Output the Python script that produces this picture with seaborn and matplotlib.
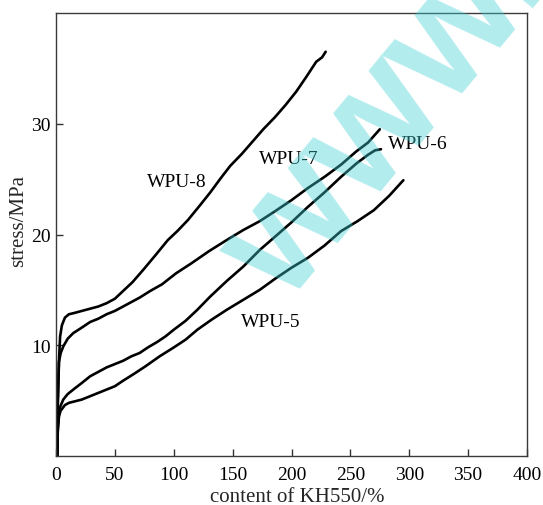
import numpy as np
import pandas as pd
import seaborn as sns
import matplotlib
matplotlib.use("Agg")
import matplotlib.pyplot as plt

# Stress-strain curves of the WPU samples
wpu8_x = [1, 1.5, 2.5, 3.5, 5, 7.6, 11, 15, 22, 29, 36, 43, 50, 57, 65, 74, 85, 95,
          103, 112, 122, 131, 140, 148, 158, 167, 176, 186, 195, 204, 213, 221, 226, 229]
wpu8_y = [0, 4.5, 8.5, 10.8, 11.8, 12.5, 12.8, 12.9, 13.1, 13.3, 13.5, 13.8, 14.2, 14.9,
          15.7, 16.8, 18.2, 19.5, 20.3, 21.3, 22.6, 23.8, 25.1, 26.2, 27.3, 28.4, 29.5,
          30.6, 31.7, 32.9, 34.3, 35.6, 36.0, 36.5]

wpu7_x = [1, 1.5, 2.5, 4, 6.2, 10, 14.7, 22, 29, 36, 43, 50, 57, 64, 71, 80, 90, 102,
          115, 130, 145, 159, 173, 186, 200, 214, 228, 242, 255, 265, 275]
wpu7_y = [0, 5, 8.5, 9.3, 9.9, 10.6, 11.1, 11.6, 12.1, 12.4, 12.8, 13.1, 13.5, 13.9,
          14.3, 14.9, 15.5, 16.5, 17.4, 18.5, 19.5, 20.4, 21.2, 22.1, 23.1, 24.2, 25.2,
          26.3, 27.5, 28.3, 29.5]

wpu6_x = [1, 1.5, 3, 6.2, 10, 14.7, 22, 29, 36, 43, 50, 57, 64, 71, 78, 86, 93, 100,
          110, 120, 131, 145, 159, 173, 186, 200, 214, 228, 242, 255, 265, 271, 276]
wpu6_y = [0, 2.5, 4.3, 5.1, 5.6, 6.0, 6.6, 7.2, 7.6, 8.0, 8.3, 8.6, 9.0, 9.3, 9.8, 10.3,
          10.8, 11.4, 12.2, 13.2, 14.4, 15.8, 17.1, 18.6, 19.8, 21.1, 22.5, 23.8, 25.2,
          26.4, 27.2, 27.6, 27.7]

wpu5_x = [1, 1.5, 2.5, 4, 7.6, 11, 14.7, 22, 29, 36, 43, 50, 57, 66, 76, 88, 100, 110,
          120, 132, 145, 159, 173, 186, 200, 214, 228, 242, 256, 270, 283, 295]
wpu5_y = [0, 2.2, 3.6, 4.1, 4.6, 4.8, 4.9, 5.1, 5.4, 5.7, 6.0, 6.3, 6.8, 7.4, 8.1, 9.0,
          9.8, 10.5, 11.4, 12.3, 13.2, 14.1, 15.0, 16.0, 17.0, 17.9, 19.0, 20.3, 21.2,
          22.2, 23.5, 24.9]

sample_names = ["WPU-8", "WPU-7", "WPU-6", "WPU-5"]
label_x = [102.4, 198, 307, 182]
label_y = [24.8, 26.9, 28.2, 12.1]

x_ticks = [0, 50, 100, 150, 200, 250, 300, 350, 400]
y_ticks = [10, 20, 30]

series = [(wpu8_x, wpu8_y), (wpu7_x, wpu7_y), (wpu6_x, wpu6_y), (wpu5_x, wpu5_y)]
frames = []
for name, (xs, ys) in zip(sample_names, series):
    frames.append(pd.DataFrame({"strain": xs, "stress": ys, "sample": name}))
df = pd.concat(frames, ignore_index=True)

sns.set_theme(style="ticks")
plt.rcParams["font.family"] = ["Liberation Serif", "DejaVu Serif"]

W, H = 543, 506
fig = plt.figure(figsize=(W / 100, H / 100), dpi=100)
ax = fig.add_axes([56 / W, 1 - 457 / H, 471 / W, 443 / H])

sns.lineplot(data=df, x="strain", y="stress", hue="sample", units="sample",
             estimator=None, sort=False, palette=["black"] * 4, linewidth=1.9,
             legend=False, ax=ax)

for name, tx, ty in zip(sample_names, label_x, label_y):
    ax.text(tx, ty, name, ha="center", va="center", fontsize=14, color="black")

ax.set_xlim(0, 400)
ax.set_ylim(0, 40)
ax.set_xticks(x_ticks)
ax.set_yticks(y_ticks)
ax.tick_params(axis="both", direction="in", length=5, width=1.0, color="#333333",
               labelsize=14, labelcolor="black")
ax.tick_params(axis="x", pad=7)
ax.tick_params(axis="y", pad=4)
for sp in ax.spines.values():
    sp.set_color("#3a3a3a")
    sp.set_linewidth(1.0)

ax.set_xlabel("content of KH550/%", fontsize=15, va="baseline")
ax.set_ylabel("stress/MPa", fontsize=15)
ax.xaxis.set_label_coords(0.513, (457 - 502) / 443)
ax.yaxis.set_label_coords((28 - 56) / 471, 0.533)

# faint site mark across the plot
fig.text(421 / W, 1 - 144 / H, "www.", fontsize=118, fontweight="bold",
         family="Liberation Sans", color="#3ecfd4", alpha=0.4, rotation=50.3,
         rotation_mode="anchor", ha="center", va="baseline", zorder=10)

fig.savefig("out.png", dpi=100)
